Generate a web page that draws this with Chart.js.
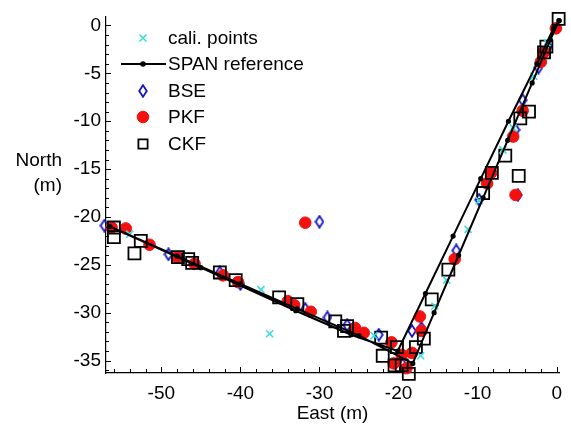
<!DOCTYPE html>
<html>
<head>
<meta charset="utf-8">
<script src="https://cdn.jsdelivr.net/npm/chart.js@4.4.1/dist/chart.umd.min.js"></script>
<style>
  html, body { margin: 0; padding: 0; background: #fff; }
  #wrap { width: 571px; height: 426px; }
</style>
</head>
<body>
<div id="wrap"><canvas id="grafico" width="571" height="426"></canvas></div>
<script>
/* posições leste/norte (m) */

const SERIES_NAMES = ["cali. points", "SPAN reference", "BSE", "PKF", "CKF"];

const caliEast  = [-54.0, -37.4, -36.3, -23.1, -17.2, -15.4, -13.9, -11.2, -9.8, -6.8, -5.5, -2.9, -1.2];
const caliNorth = [-21.8, -27.6, -32.2, -32.4, -34.5, -29.3, -26.6, -21.3, -18.3, -13.0, -10.7, -5.3, -1.8];

const spanEast  = [0.3, -0.8, -3.1, -6.2, -9.3, -12.4, -15.5, -18.2, -25.0, -32.8, -40.0, -48.0, -56.5,
                   -45.0, -33.0, -26.0, -20.1, -16.6, -13.1, -9.6, -6.1, -2.5, -0.4, 0.3];
const spanNorth = [0.5, -1.5, -6.0, -12.0, -18.0, -24.0, -30.0, -35.3, -32.4, -29.6, -27.0, -24.1, -21.0,
                   -25.3, -29.8, -32.3, -34.0, -28.0, -22.0, -16.0, -10.0, -4.0, -0.3, 0.5];

const bseEast  = [-57.2, -49.1, -42.6, -40.0, -30.0, -31.8, -29.0, -26.5, -22.5, -19.5, -18.3, -17.1, -12.7, -9.8, -4.9, -5.2, -4.3, -2.3, -1.1];
const bseNorth = [-20.9, -23.9, -25.8, -27.0, -20.5, -29.6, -30.5, -31.3, -32.3, -35.4, -31.9, -31.6, -23.5, -18.2, -17.7, -10.9, -7.8, -4.4, -2.2];

const pkfEast  = [-56.3, -54.5, -51.5, -48.0, -45.8, -42.2, -40.3, -34.0, -33.2, -31.1, -31.8, -25.5, -24.4, -20.9, -19.6,
                  -20.6, -19.0, -18.3, -17.3, -17.1, -12.9, -8.8, -8.3, -5.2, -5.5, -4.3, -2.0, -1.6, -0.1];
const pkfNorth = [-21.1, -21.2, -22.9, -24.2, -24.9, -26.1, -26.8, -28.8, -29.2, -29.9, -20.6, -31.6, -32.1, -33.1, -34.4,
                  -35.3, -35.8, -34.2, -30.4, -31.9, -24.4, -16.5, -15.4, -17.7, -11.6, -8.9, -3.8, -2.8, -0.3];

const ckfEast  = [-56.0, -56.0, -52.6, -53.4, -47.9, -46.6, -46.1, -42.6, -40.6, -35.1, -32.8, -28.0, -26.5, -26.9, -22.2,
                  -22.0, -20.2, -20.5, -19.6, -18.7, -17.8, -16.8, -15.8, -13.7, -9.3, -8.2, -6.5, -4.8, -4.6, -3.5, -1.6, -1.3, 0.25];
const ckfNorth = [-21.1, -22.1, -22.5, -23.8, -24.2, -24.4, -24.8, -25.8, -26.6, -28.4, -29.1, -30.9, -31.4, -31.9, -32.6,
                  -34.5, -33.6, -35.5, -35.5, -36.4, -33.6, -32.7, -28.6, -25.5, -17.5, -15.4, -13.6, -15.7, -9.7, -9.0, -2.8, -2.2, 0.7];

/* ===== utilitários ===== */
function pares(xs, ys) {
  return xs.map((x, i) => ({ x, y: ys[i] }));
}

function losango(cor) {
  const c = document.createElement("canvas");
  c.width = 10; c.height = 14;
  const g = c.getContext("2d");
  g.strokeStyle = cor;
  g.lineWidth = 1.8;
  g.beginPath();
  g.moveTo(5, 1.2); g.lineTo(8.8, 7); g.lineTo(5, 12.8); g.lineTo(1.2, 7);
  g.closePath();
  g.stroke();
  return c;
}

const FONTE = "'Liberation Sans', Arial, sans-serif";
const CIANO = "#36dede";
const AZUL = "#1414c8";
const VERMELHO = "#f51010";

/* marcas dos eixos para dentro */
const marcasPlugin = {
  id: "marcas",
  afterDraw(chart) {
    const { ctx, chartArea, scales } = chart;
    ctx.save();
    ctx.strokeStyle = "#000";
    ctx.lineWidth = 1;
    ctx.beginPath();
    for (let v = -56; v <= 0; v += 2) {
      const px = Math.round(scales.x.getPixelForValue(v)) + 0.5;
      const len = v % 10 === 0 ? 6 : 4;
      ctx.moveTo(px, chartArea.bottom);
      ctx.lineTo(px, chartArea.bottom - len);
    }
    for (let v = -36; v <= 0; v += 1) {
      const py = Math.round(scales.y.getPixelForValue(v)) + 0.5;
      const len = v % 5 === 0 ? 5 : 3;
      ctx.moveTo(chartArea.left, py);
      ctx.lineTo(chartArea.left + len, py);
    }
    ctx.stroke();

    // título do eixo vertical, horizontal e em duas linhas
    ctx.fillStyle = "#000";
    ctx.font = "19px " + FONTE;
    ctx.textAlign = "right";
    ctx.textBaseline = "middle";
    ctx.fillText("North", 62, 161);
    ctx.fillText("(m)", 62, 186);
    ctx.restore();
  }
};

/* legenda dentro da área do gráfico */
const legendaPlugin = {
  id: "legendaInterna",
  afterDatasetsDraw(chart) {
    const { ctx } = chart;
    const x0 = 143, tx = 168;
    const linhas = [38, 64, 91, 117, 144];
    ctx.save();
    ctx.font = "19px " + FONTE;
    ctx.textBaseline = "middle";
    ctx.textAlign = "left";
    chart.data.datasets.forEach((ds, i) => {
      const y = linhas[i];
      if (ds.showLine) {
        ctx.strokeStyle = ds.borderColor;
        ctx.lineWidth = 2;
        ctx.beginPath();
        ctx.moveTo(121, y); ctx.lineTo(166, y);
        ctx.stroke();
        ctx.fillStyle = "#000";
        Chart.helpers.drawPoint(ctx, { pointStyle: "circle", radius: 1.8, borderWidth: 1 }, x0, y);
      } else {
        ctx.strokeStyle = ds.borderColor;
        ctx.fillStyle = ds.backgroundColor;
        ctx.lineWidth = ds.borderWidth;
        const r = ds.legendRadius || ds.pointRadius;
        Chart.helpers.drawPoint(ctx, { pointStyle: ds.pointStyle, radius: r, borderWidth: ds.borderWidth, rotation: 0 }, x0, y);
      }
      ctx.fillStyle = "#000";
      ctx.fillText(ds.label, tx, y + 1);
    });
    ctx.restore();
  }
};

const ctx = document.getElementById("grafico").getContext("2d");

new Chart(ctx, {
  type: "scatter",
  data: {
    datasets: [
      {
        label: SERIES_NAMES[0],
        data: pares(caliEast, caliNorth),
        pointStyle: "crossRot",
        pointRadius: 5,
        borderColor: CIANO,
        backgroundColor: CIANO,
        borderWidth: 1.6,
        order: 1,
        clip: false
      },
      {
        label: SERIES_NAMES[1],
        data: pares(spanEast, spanNorth),
        showLine: true,
        borderColor: "#000",
        backgroundColor: "#000",
        borderWidth: 2,
        pointRadius: 1.6,
        pointStyle: "circle",
        order: 0,
        clip: false
      },
      {
        label: SERIES_NAMES[2],
        data: pares(bseEast, bseNorth),
        pointStyle: losango(AZUL),
        pointRadius: 5,
        borderColor: AZUL,
        backgroundColor: "rgba(0,0,0,0)",
        borderWidth: 1.6,
        order: 4,
        clip: false
      },
      {
        label: SERIES_NAMES[3],
        data: pares(pkfEast, pkfNorth),
        pointStyle: "circle",
        pointRadius: 5.8,
        borderColor: VERMELHO,
        backgroundColor: VERMELHO,
        borderWidth: 1,
        order: 3,
        clip: false
      },
      {
        label: SERIES_NAMES[4],
        data: pares(ckfEast, ckfNorth),
        pointStyle: "rect",
        pointRadius: 8.5,
        legendRadius: 6.5,
        borderColor: "#000",
        backgroundColor: "rgba(0,0,0,0)",
        borderWidth: 1.8,
        order: 2,
        clip: false
      }
    ]
  },
  options: {
    responsive: false,
    animation: false,
    layout: { padding: { top: 9.5, right: 8, left: 0, bottom: 0 } },
    plugins: {
      legend: { display: false },
      tooltip: { enabled: false }
    },
    scales: {
      x: {
        type: "linear",
        min: -57,
        max: 0.3,
        grid: { display: false, drawTicks: false },
        border: { display: true, color: "#000", width: 1.2 },
        ticks: {
          stepSize: 10,
          includeBounds: false,
          padding: 9,
          color: "#000",
          font: { family: FONTE, size: 19 }
        },
        title: {
          display: true,
          text: "East (m)",
          color: "#000",
          font: { family: FONTE, size: 19 },
          padding: { top: 0, bottom: 1 }
        },
        afterFit: (s) => { s.height = 53; }
      },
      y: {
        type: "linear",
        min: -36.3,
        max: 0.95,
        grid: { display: false, drawTicks: false },
        border: { display: true, color: "#000", width: 1.2 },
        ticks: {
          stepSize: 5,
          includeBounds: false,
          padding: 5,
          color: "#000",
          font: { family: FONTE, size: 19 }
        },
        afterFit: (s) => { s.width = 106; }
      }
    }
  },
  plugins: [marcasPlugin, legendaPlugin]
});
</script>
</body>
</html>
